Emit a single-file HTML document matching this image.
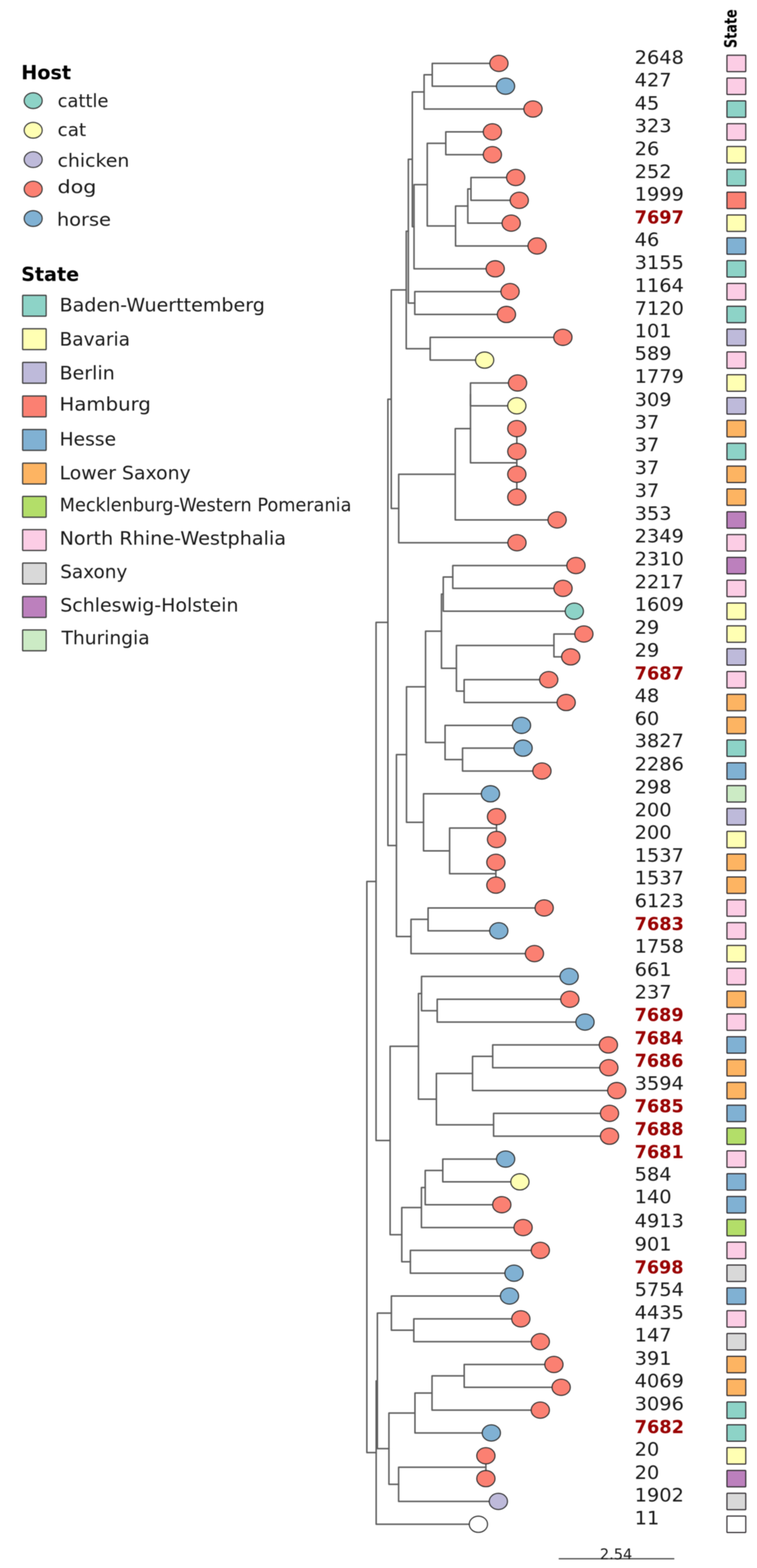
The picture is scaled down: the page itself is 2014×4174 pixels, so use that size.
<!DOCTYPE html>
<html><head><meta charset="utf-8"><title>Phylogenetic tree</title>
<style>html,body{margin:0;padding:0;background:#fff;}svg{display:block;}#all{filter:blur(0.8px);}</style>
</head><body>
<svg width="2014" height="4174" viewBox="0 0 2014 4174" font-family="DejaVu Sans, Liberation Sans, sans-serif"><g id="all"><g fill="none" stroke="#5e5e5e" stroke-width="4.0" stroke-linejoin="round" stroke-linecap="round"><path d="M1327.4 168.7H1150V229.5H1345"/><path d="M1150 199.1H1128.3V290.2H1418"/><path d="M1310 351H1186V411.8H1310"/><path d="M1372 472.5H1253V533.3H1381.5"/><path d="M1253 502.9H1244.6V594H1360"/><path d="M1244.6 548.5H1212V654.8H1429"/><path d="M1186 381.4H1136.7V601.6H1212"/><path d="M1136.7 491.5H1101.5V715.6H1317.5"/><path d="M1128.3 244.7H1097V603.5H1101.5"/><path d="M1357 776.3H1103.5V837.1H1347.4"/><path d="M1097 424.1H1086.4V806.7H1103.5"/><path d="M1497.5 897.9H1144.5V958.6H1289.4"/><path d="M1086.4 615.4H1080.8V928.2H1144.5"/><path d="M1377 1019.4H1251.7V1080.2H1375"/><path d="M1375 1140.9V1323.2"/><path d="M1375 1140.9H1375"/><path d="M1375 1201.7H1375"/><path d="M1375 1262.5H1375"/><path d="M1375 1323.2H1375"/><path d="M1251.7 1049.8H1251.7V1232.1H1375"/><path d="M1251.7 1140.9H1211.2V1384H1482.2"/><path d="M1211.2 1262.5H1060.7V1444.7H1375.4"/><path d="M1080.8 771.8H1041V1353.6H1060.7"/><path d="M1532.3 1505.5H1204.6V1566.3H1497.9"/><path d="M1204.6 1535.9H1179.3V1627H1528"/><path d="M1553.4 1687.8H1473.7V1748.6H1518.4"/><path d="M1459.9 1809.3H1234.8V1870.1H1506.3"/><path d="M1473.7 1718.2H1214.3V1839.7H1234.8"/><path d="M1179.3 1581.5H1174.5V1778.9H1214.3"/><path d="M1391.7 1991.6H1230.6V2052.4H1441.8"/><path d="M1387.5 1930.9H1184.1V2022H1230.6"/><path d="M1174.5 1680.2H1132.2V1976.4H1184.1"/><path d="M1321 2173.9H1321V2234.7H1321"/><path d="M1319.3 2295.4H1319.3V2356.2H1319.3"/><path d="M1321 2204.3H1196.2V2325.8H1319.3"/><path d="M1304.8 2113.1H1126.8V2265.1H1196.2"/><path d="M1132.2 1828.3H1081.5V2189.1H1126.8"/><path d="M1447.8 2417H1138.9V2477.7H1327"/><path d="M1138.9 2447.3H1093.5V2538.5H1421.9"/><path d="M1081.5 2008.7H1054.7V2492.9H1093.5"/><path d="M1041 1062.7H1032V2250.8H1054.7"/><path d="M1516 2660H1163.2V2720.8H1556.4"/><path d="M1514.2 2599.3H1121.5V2690.4H1163.2"/><path d="M1618.6 2781.6H1310.8V2842.3H1619.8"/><path d="M1310.8 2811.9H1257.2V2903.1H1640.9"/><path d="M1621.6 2963.8H1313.2V3024.6H1621.6"/><path d="M1257.2 2857.5H1161V2994.2H1313.2"/><path d="M1121.5 2644.8H1113.3V2925.9H1161"/><path d="M1345.2 3085.4H1178V3146.1H1383.2"/><path d="M1178 3115.8H1131.3V3206.9H1335"/><path d="M1131.3 3161.3H1121.2V3267.7H1391.7"/><path d="M1437.5 3328.4H1091.8V3389.2H1367.5"/><path d="M1121.2 3214.5H1068.9V3358.8H1091.8"/><path d="M1113.3 2785.3H1037.9V3286.7H1068.9"/><path d="M1032 1656.8H1000.5V3036H1037.9"/><path d="M1385.7 3510.7H1100.9V3571.5H1437.5"/><path d="M1355.5 3450H1041.3V3541.1H1100.9"/><path d="M1473.7 3632.2H1235V3693H1493"/><path d="M1235 3662.6H1149.4V3753.8H1437.5"/><path d="M1149.4 3708.2H1104V3814.5H1307.2"/><path d="M1292.7 3875.3H1292.7V3936.1H1292.7"/><path d="M1292.7 3905.7H1060.5V3996.8H1325.9"/><path d="M1104 3761.4H1034.7V3951.3H1060.5"/><path d="M1041.3 3495.5H1004V3856.3H1034.7"/><path d="M1004 3675.9H1000.8V4057.6H1272.8"/><path d="M1000.5 2346.4H976V3866.8H1000.8"/></g><g stroke="#2e2e2e" stroke-width="2.8"><ellipse cx="1327.4" cy="168.7" rx="24.3" ry="21.6" fill="#FB8072"/><ellipse cx="1345" cy="229.5" rx="24.3" ry="21.6" fill="#80B1D3"/><ellipse cx="1418" cy="290.2" rx="24.3" ry="21.6" fill="#FB8072"/><ellipse cx="1310" cy="351" rx="24.3" ry="21.6" fill="#FB8072"/><ellipse cx="1310" cy="411.8" rx="24.3" ry="21.6" fill="#FB8072"/><ellipse cx="1372" cy="472.5" rx="24.3" ry="21.6" fill="#FB8072"/><ellipse cx="1381.5" cy="533.3" rx="24.3" ry="21.6" fill="#FB8072"/><ellipse cx="1360" cy="594" rx="24.3" ry="21.6" fill="#FB8072"/><ellipse cx="1429" cy="654.8" rx="24.3" ry="21.6" fill="#FB8072"/><ellipse cx="1317.5" cy="715.6" rx="24.3" ry="21.6" fill="#FB8072"/><ellipse cx="1357" cy="776.3" rx="24.3" ry="21.6" fill="#FB8072"/><ellipse cx="1347.4" cy="837.1" rx="24.3" ry="21.6" fill="#FB8072"/><ellipse cx="1497.5" cy="897.9" rx="24.3" ry="21.6" fill="#FB8072"/><ellipse cx="1289.4" cy="958.6" rx="24.3" ry="21.6" fill="#FFFFB3"/><ellipse cx="1377" cy="1019.4" rx="24.3" ry="21.6" fill="#FB8072"/><ellipse cx="1375" cy="1080.2" rx="24.3" ry="21.6" fill="#FFFFB3"/><ellipse cx="1375" cy="1140.9" rx="24.3" ry="21.6" fill="#FB8072"/><ellipse cx="1375" cy="1201.7" rx="24.3" ry="21.6" fill="#FB8072"/><ellipse cx="1375" cy="1262.5" rx="24.3" ry="21.6" fill="#FB8072"/><ellipse cx="1375" cy="1323.2" rx="24.3" ry="21.6" fill="#FB8072"/><ellipse cx="1482.2" cy="1384" rx="24.3" ry="21.6" fill="#FB8072"/><ellipse cx="1375.4" cy="1444.7" rx="24.3" ry="21.6" fill="#FB8072"/><ellipse cx="1532.3" cy="1505.5" rx="24.3" ry="21.6" fill="#FB8072"/><ellipse cx="1497.9" cy="1566.3" rx="24.3" ry="21.6" fill="#FB8072"/><ellipse cx="1528" cy="1627" rx="24.3" ry="21.6" fill="#8DD3C7"/><ellipse cx="1553.4" cy="1687.8" rx="24.3" ry="21.6" fill="#FB8072"/><ellipse cx="1518.4" cy="1748.6" rx="24.3" ry="21.6" fill="#FB8072"/><ellipse cx="1459.9" cy="1809.3" rx="24.3" ry="21.6" fill="#FB8072"/><ellipse cx="1506.3" cy="1870.1" rx="24.3" ry="21.6" fill="#FB8072"/><ellipse cx="1387.5" cy="1930.9" rx="24.3" ry="21.6" fill="#80B1D3"/><ellipse cx="1391.7" cy="1991.6" rx="24.3" ry="21.6" fill="#80B1D3"/><ellipse cx="1441.8" cy="2052.4" rx="24.3" ry="21.6" fill="#FB8072"/><ellipse cx="1304.8" cy="2113.1" rx="24.3" ry="21.6" fill="#80B1D3"/><ellipse cx="1321" cy="2173.9" rx="24.3" ry="21.6" fill="#FB8072"/><ellipse cx="1321" cy="2234.7" rx="24.3" ry="21.6" fill="#FB8072"/><ellipse cx="1319.3" cy="2295.4" rx="24.3" ry="21.6" fill="#FB8072"/><ellipse cx="1319.3" cy="2356.2" rx="24.3" ry="21.6" fill="#FB8072"/><ellipse cx="1447.8" cy="2417" rx="24.3" ry="21.6" fill="#FB8072"/><ellipse cx="1327" cy="2477.7" rx="24.3" ry="21.6" fill="#80B1D3"/><ellipse cx="1421.9" cy="2538.5" rx="24.3" ry="21.6" fill="#FB8072"/><ellipse cx="1514.2" cy="2599.3" rx="24.3" ry="21.6" fill="#80B1D3"/><ellipse cx="1516" cy="2660" rx="24.3" ry="21.6" fill="#FB8072"/><ellipse cx="1556.4" cy="2720.8" rx="24.3" ry="21.6" fill="#80B1D3"/><ellipse cx="1618.6" cy="2781.6" rx="24.3" ry="21.6" fill="#FB8072"/><ellipse cx="1619.8" cy="2842.3" rx="24.3" ry="21.6" fill="#FB8072"/><ellipse cx="1640.9" cy="2903.1" rx="24.3" ry="21.6" fill="#FB8072"/><ellipse cx="1621.6" cy="2963.8" rx="24.3" ry="21.6" fill="#FB8072"/><ellipse cx="1621.6" cy="3024.6" rx="24.3" ry="21.6" fill="#FB8072"/><ellipse cx="1345.2" cy="3085.4" rx="24.3" ry="21.6" fill="#80B1D3"/><ellipse cx="1383.2" cy="3146.1" rx="24.3" ry="21.6" fill="#FFFFB3"/><ellipse cx="1335" cy="3206.9" rx="24.3" ry="21.6" fill="#FB8072"/><ellipse cx="1391.7" cy="3267.7" rx="24.3" ry="21.6" fill="#FB8072"/><ellipse cx="1437.5" cy="3328.4" rx="24.3" ry="21.6" fill="#FB8072"/><ellipse cx="1367.5" cy="3389.2" rx="24.3" ry="21.6" fill="#80B1D3"/><ellipse cx="1355.5" cy="3450" rx="24.3" ry="21.6" fill="#80B1D3"/><ellipse cx="1385.7" cy="3510.7" rx="24.3" ry="21.6" fill="#FB8072"/><ellipse cx="1437.5" cy="3571.5" rx="24.3" ry="21.6" fill="#FB8072"/><ellipse cx="1473.7" cy="3632.2" rx="24.3" ry="21.6" fill="#FB8072"/><ellipse cx="1493" cy="3693" rx="24.3" ry="21.6" fill="#FB8072"/><ellipse cx="1437.5" cy="3753.8" rx="24.3" ry="21.6" fill="#FB8072"/><ellipse cx="1307.2" cy="3814.5" rx="24.3" ry="21.6" fill="#80B1D3"/><ellipse cx="1292.7" cy="3875.3" rx="24.3" ry="21.6" fill="#FB8072"/><ellipse cx="1292.7" cy="3936.1" rx="24.3" ry="21.6" fill="#FB8072"/><ellipse cx="1325.9" cy="3996.8" rx="24.3" ry="21.6" fill="#BEBADA"/><ellipse cx="1272.8" cy="4057.6" rx="24.3" ry="21.6" fill="#FFFFFF"/></g><g stroke="#2e2a2e" stroke-width="3"><rect x="1934" y="146.9" width="50.1" height="43.8" rx="1.5" fill="#FCCDE5"/><rect x="1934" y="207.7" width="50.1" height="43.8" rx="1.5" fill="#FCCDE5"/><rect x="1934" y="268.4" width="50.1" height="43.8" rx="1.5" fill="#8DD3C7"/><rect x="1934" y="329.2" width="50.1" height="43.8" rx="1.5" fill="#FCCDE5"/><rect x="1934" y="390" width="50.1" height="43.8" rx="1.5" fill="#FFFFB3"/><rect x="1934" y="450.7" width="50.1" height="43.8" rx="1.5" fill="#8DD3C7"/><rect x="1934" y="511.5" width="50.1" height="43.8" rx="1.5" fill="#FB8072"/><rect x="1934" y="572.2" width="50.1" height="43.8" rx="1.5" fill="#FFFFB3"/><rect x="1934" y="633" width="50.1" height="43.8" rx="1.5" fill="#80B1D3"/><rect x="1934" y="693.8" width="50.1" height="43.8" rx="1.5" fill="#8DD3C7"/><rect x="1934" y="754.5" width="50.1" height="43.8" rx="1.5" fill="#FCCDE5"/><rect x="1934" y="815.3" width="50.1" height="43.8" rx="1.5" fill="#8DD3C7"/><rect x="1934" y="876.1" width="50.1" height="43.8" rx="1.5" fill="#BEBADA"/><rect x="1934" y="936.8" width="50.1" height="43.8" rx="1.5" fill="#FCCDE5"/><rect x="1934" y="997.6" width="50.1" height="43.8" rx="1.5" fill="#FFFFB3"/><rect x="1934" y="1058.4" width="50.1" height="43.8" rx="1.5" fill="#BEBADA"/><rect x="1934" y="1119.1" width="50.1" height="43.8" rx="1.5" fill="#FDB462"/><rect x="1934" y="1179.9" width="50.1" height="43.8" rx="1.5" fill="#8DD3C7"/><rect x="1934" y="1240.7" width="50.1" height="43.8" rx="1.5" fill="#FDB462"/><rect x="1934" y="1301.4" width="50.1" height="43.8" rx="1.5" fill="#FDB462"/><rect x="1934" y="1362.2" width="50.1" height="43.8" rx="1.5" fill="#BC80BD"/><rect x="1934" y="1422.9" width="50.1" height="43.8" rx="1.5" fill="#FCCDE5"/><rect x="1934" y="1483.7" width="50.1" height="43.8" rx="1.5" fill="#BC80BD"/><rect x="1934" y="1544.5" width="50.1" height="43.8" rx="1.5" fill="#FCCDE5"/><rect x="1934" y="1605.2" width="50.1" height="43.8" rx="1.5" fill="#FFFFB3"/><rect x="1934" y="1666" width="50.1" height="43.8" rx="1.5" fill="#FFFFB3"/><rect x="1934" y="1726.8" width="50.1" height="43.8" rx="1.5" fill="#BEBADA"/><rect x="1934" y="1787.5" width="50.1" height="43.8" rx="1.5" fill="#FCCDE5"/><rect x="1934" y="1848.3" width="50.1" height="43.8" rx="1.5" fill="#FDB462"/><rect x="1934" y="1909.1" width="50.1" height="43.8" rx="1.5" fill="#FDB462"/><rect x="1934" y="1969.8" width="50.1" height="43.8" rx="1.5" fill="#8DD3C7"/><rect x="1934" y="2030.6" width="50.1" height="43.8" rx="1.5" fill="#80B1D3"/><rect x="1934" y="2091.3" width="50.1" height="43.8" rx="1.5" fill="#CCEBC5"/><rect x="1934" y="2152.1" width="50.1" height="43.8" rx="1.5" fill="#BEBADA"/><rect x="1934" y="2212.9" width="50.1" height="43.8" rx="1.5" fill="#FFFFB3"/><rect x="1934" y="2273.6" width="50.1" height="43.8" rx="1.5" fill="#FDB462"/><rect x="1934" y="2334.4" width="50.1" height="43.8" rx="1.5" fill="#FDB462"/><rect x="1934" y="2395.2" width="50.1" height="43.8" rx="1.5" fill="#FCCDE5"/><rect x="1934" y="2455.9" width="50.1" height="43.8" rx="1.5" fill="#FCCDE5"/><rect x="1934" y="2516.7" width="50.1" height="43.8" rx="1.5" fill="#FFFFB3"/><rect x="1934" y="2577.5" width="50.1" height="43.8" rx="1.5" fill="#FCCDE5"/><rect x="1934" y="2638.2" width="50.1" height="43.8" rx="1.5" fill="#FDB462"/><rect x="1934" y="2699" width="50.1" height="43.8" rx="1.5" fill="#FCCDE5"/><rect x="1934" y="2759.8" width="50.1" height="43.8" rx="1.5" fill="#80B1D3"/><rect x="1934" y="2820.5" width="50.1" height="43.8" rx="1.5" fill="#FDB462"/><rect x="1934" y="2881.3" width="50.1" height="43.8" rx="1.5" fill="#FDB462"/><rect x="1934" y="2942" width="50.1" height="43.8" rx="1.5" fill="#80B1D3"/><rect x="1934" y="3002.8" width="50.1" height="43.8" rx="1.5" fill="#B3DE69"/><rect x="1934" y="3063.6" width="50.1" height="43.8" rx="1.5" fill="#FCCDE5"/><rect x="1934" y="3124.3" width="50.1" height="43.8" rx="1.5" fill="#80B1D3"/><rect x="1934" y="3185.1" width="50.1" height="43.8" rx="1.5" fill="#80B1D3"/><rect x="1934" y="3245.9" width="50.1" height="43.8" rx="1.5" fill="#B3DE69"/><rect x="1934" y="3306.6" width="50.1" height="43.8" rx="1.5" fill="#FCCDE5"/><rect x="1934" y="3367.4" width="50.1" height="43.8" rx="1.5" fill="#D9D9D9"/><rect x="1934" y="3428.2" width="50.1" height="43.8" rx="1.5" fill="#80B1D3"/><rect x="1934" y="3488.9" width="50.1" height="43.8" rx="1.5" fill="#FCCDE5"/><rect x="1934" y="3549.7" width="50.1" height="43.8" rx="1.5" fill="#D9D9D9"/><rect x="1934" y="3610.4" width="50.1" height="43.8" rx="1.5" fill="#FDB462"/><rect x="1934" y="3671.2" width="50.1" height="43.8" rx="1.5" fill="#FDB462"/><rect x="1934" y="3732" width="50.1" height="43.8" rx="1.5" fill="#8DD3C7"/><rect x="1934" y="3792.7" width="50.1" height="43.8" rx="1.5" fill="#8DD3C7"/><rect x="1934" y="3853.5" width="50.1" height="43.8" rx="1.5" fill="#FFFFB3"/><rect x="1934" y="3914.3" width="50.1" height="43.8" rx="1.5" fill="#BC80BD"/><rect x="1934" y="3975" width="50.1" height="43.8" rx="1.5" fill="#D9D9D9"/><rect x="1934" y="4035.8" width="50.1" height="43.8" rx="1.5" fill="#FFFFFF"/></g><g font-size="49.5" fill="#1a1a1a"><text x="1688.5" y="170.1" textLength="131" lengthAdjust="spacingAndGlyphs">2648</text><text x="1688.5" y="230.3" textLength="98.3" lengthAdjust="spacingAndGlyphs">427</text><text x="1688.5" y="291.5" textLength="65.5" lengthAdjust="spacingAndGlyphs">45</text><text x="1688.5" y="352.1" textLength="98.3" lengthAdjust="spacingAndGlyphs">323</text><text x="1688.5" y="413" textLength="65.5" lengthAdjust="spacingAndGlyphs">26</text><text x="1688.5" y="473.7" textLength="98.3" lengthAdjust="spacingAndGlyphs">252</text><text x="1688.5" y="533.7" textLength="131" lengthAdjust="spacingAndGlyphs">1999</text><text x="1688.5" y="594.7" textLength="131" lengthAdjust="spacingAndGlyphs" font-weight="bold" font-size="48" fill="#990000">7697</text><text x="1688.5" y="655.1" textLength="65.5" lengthAdjust="spacingAndGlyphs">46</text><text x="1688.5" y="716.4" textLength="131" lengthAdjust="spacingAndGlyphs">3155</text><text x="1688.5" y="777" textLength="131" lengthAdjust="spacingAndGlyphs">1164</text><text x="1688.5" y="837.7" textLength="131" lengthAdjust="spacingAndGlyphs">7120</text><text x="1688.5" y="897.6" textLength="98.3" lengthAdjust="spacingAndGlyphs">101</text><text x="1688.5" y="958.3" textLength="98.3" lengthAdjust="spacingAndGlyphs">589</text><text x="1688.5" y="1019.4" textLength="131" lengthAdjust="spacingAndGlyphs">1779</text><text x="1688.5" y="1080.7" textLength="98.3" lengthAdjust="spacingAndGlyphs">309</text><text x="1688.5" y="1141.4" textLength="65.5" lengthAdjust="spacingAndGlyphs">37</text><text x="1688.5" y="1201.3" textLength="65.5" lengthAdjust="spacingAndGlyphs">37</text><text x="1688.5" y="1261.9" textLength="65.5" lengthAdjust="spacingAndGlyphs">37</text><text x="1688.5" y="1323" textLength="65.5" lengthAdjust="spacingAndGlyphs">37</text><text x="1688.5" y="1383.9" textLength="98.3" lengthAdjust="spacingAndGlyphs">353</text><text x="1688.5" y="1444.4" textLength="131" lengthAdjust="spacingAndGlyphs">2349</text><text x="1688.5" y="1505.1" textLength="131" lengthAdjust="spacingAndGlyphs">2310</text><text x="1688.5" y="1565.7" textLength="131" lengthAdjust="spacingAndGlyphs">2217</text><text x="1688.5" y="1626.4" textLength="131" lengthAdjust="spacingAndGlyphs">1609</text><text x="1688.5" y="1687" textLength="65.5" lengthAdjust="spacingAndGlyphs">29</text><text x="1688.5" y="1747.6" textLength="65.5" lengthAdjust="spacingAndGlyphs">29</text><text x="1688.5" y="1809" textLength="131" lengthAdjust="spacingAndGlyphs" font-weight="bold" font-size="48" fill="#990000">7687</text><text x="1688.5" y="1869" textLength="65.5" lengthAdjust="spacingAndGlyphs">48</text><text x="1688.5" y="1929.5" textLength="65.5" lengthAdjust="spacingAndGlyphs">60</text><text x="1688.5" y="1989.3" textLength="131" lengthAdjust="spacingAndGlyphs">3827</text><text x="1688.5" y="2051.1" textLength="131" lengthAdjust="spacingAndGlyphs">2286</text><text x="1688.5" y="2111.6" textLength="98.3" lengthAdjust="spacingAndGlyphs">298</text><text x="1688.5" y="2172.8" textLength="98.3" lengthAdjust="spacingAndGlyphs">200</text><text x="1688.5" y="2233" textLength="98.3" lengthAdjust="spacingAndGlyphs">200</text><text x="1688.5" y="2293.7" textLength="131" lengthAdjust="spacingAndGlyphs">1537</text><text x="1688.5" y="2354.3" textLength="131" lengthAdjust="spacingAndGlyphs">1537</text><text x="1688.5" y="2414.9" textLength="131" lengthAdjust="spacingAndGlyphs">6123</text><text x="1688.5" y="2475.6" textLength="131" lengthAdjust="spacingAndGlyphs" font-weight="bold" font-size="48" fill="#990000">7683</text><text x="1688.5" y="2536.2" textLength="131" lengthAdjust="spacingAndGlyphs">1758</text><text x="1688.5" y="2597.9" textLength="98.3" lengthAdjust="spacingAndGlyphs">661</text><text x="1688.5" y="2657.7" textLength="98.3" lengthAdjust="spacingAndGlyphs">237</text><text x="1688.5" y="2718.2" textLength="130.2" lengthAdjust="spacingAndGlyphs" font-weight="bold" font-size="48" fill="#990000">7689</text><text x="1688.5" y="2779.6" textLength="129.3" lengthAdjust="spacingAndGlyphs" font-weight="bold" font-size="48" fill="#990000">7684</text><text x="1688.5" y="2840.2" textLength="129.5" lengthAdjust="spacingAndGlyphs" font-weight="bold" font-size="48" fill="#990000">7686</text><text x="1688.5" y="2900.8" textLength="131" lengthAdjust="spacingAndGlyphs">3594</text><text x="1688.5" y="2961.3" textLength="130.5" lengthAdjust="spacingAndGlyphs" font-weight="bold" font-size="48" fill="#990000">7685</text><text x="1688.5" y="3022.4" textLength="130" lengthAdjust="spacingAndGlyphs" font-weight="bold" font-size="48" fill="#990000">7688</text><text x="1688.5" y="3083.1" textLength="130.5" lengthAdjust="spacingAndGlyphs" font-weight="bold" font-size="48" fill="#990000">7681</text><text x="1688.5" y="3142.9" textLength="98.3" lengthAdjust="spacingAndGlyphs">584</text><text x="1688.5" y="3203.4" textLength="98.3" lengthAdjust="spacingAndGlyphs">140</text><text x="1688.5" y="3267.1" textLength="131" lengthAdjust="spacingAndGlyphs">4913</text><text x="1688.5" y="3329.2" textLength="98.3" lengthAdjust="spacingAndGlyphs">901</text><text x="1688.5" y="3389.7" textLength="130" lengthAdjust="spacingAndGlyphs" font-weight="bold" font-size="48" fill="#990000">7698</text><text x="1688.5" y="3450.2" textLength="131" lengthAdjust="spacingAndGlyphs">5754</text><text x="1688.5" y="3510.8" textLength="131" lengthAdjust="spacingAndGlyphs">4435</text><text x="1688.5" y="3571.4" textLength="98.3" lengthAdjust="spacingAndGlyphs">147</text><text x="1688.5" y="3632.7" textLength="98.3" lengthAdjust="spacingAndGlyphs">391</text><text x="1688.5" y="3693.4" textLength="131" lengthAdjust="spacingAndGlyphs">4069</text><text x="1688.5" y="3754" textLength="131" lengthAdjust="spacingAndGlyphs">3096</text><text x="1688.5" y="3814.7" textLength="131.2" lengthAdjust="spacingAndGlyphs" font-weight="bold" font-size="48" fill="#990000">7682</text><text x="1688.5" y="3875.4" textLength="65.5" lengthAdjust="spacingAndGlyphs">20</text><text x="1688.5" y="3936.5" textLength="65.5" lengthAdjust="spacingAndGlyphs">20</text><text x="1688.5" y="3997" textLength="131" lengthAdjust="spacingAndGlyphs">1902</text><text x="1688.5" y="4057.5" textLength="65.5" lengthAdjust="spacingAndGlyphs">11</text></g><text x="56.4" y="211" font-size="51.5" font-weight="bold" textLength="132.7" lengthAdjust="spacingAndGlyphs" fill="#000">Host</text><ellipse cx="88.3" cy="268" rx="24" ry="21" fill="#8DD3C7" stroke="#383838" stroke-width="2.9"/><text x="153.4" y="285" font-size="48.7" textLength="135.2" lengthAdjust="spacingAndGlyphs" fill="#1a1a1a">cattle</text><ellipse cx="88.3" cy="346.8" rx="24" ry="21" fill="#FFFFB3" stroke="#383838" stroke-width="2.9"/><text x="153.3" y="361.5" font-size="48.7" textLength="76" lengthAdjust="spacingAndGlyphs" fill="#1a1a1a">cat</text><ellipse cx="88.3" cy="424.9" rx="24" ry="21" fill="#BEBADA" stroke="#383838" stroke-width="2.9"/><text x="153.2" y="443.6" font-size="48.7" textLength="191" lengthAdjust="spacingAndGlyphs" fill="#1a1a1a">chicken</text><ellipse cx="88.3" cy="503.4" rx="24" ry="21" fill="#FB8072" stroke="#383838" stroke-width="2.9"/><text x="153" y="513.6" font-size="48.7" textLength="103.4" lengthAdjust="spacingAndGlyphs" fill="#1a1a1a">dog</text><ellipse cx="88.3" cy="581.7" rx="24" ry="21" fill="#80B1D3" stroke="#383838" stroke-width="2.9"/><text x="151.4" y="600.5" font-size="48.7" textLength="143.9" lengthAdjust="spacingAndGlyphs" fill="#1a1a1a">horse</text><text x="56.4" y="748.2" font-size="51.5" font-weight="bold" textLength="154.1" lengthAdjust="spacingAndGlyphs" fill="#000">State</text><rect x="60.2" y="786.1" width="62.6" height="55.5" rx="1.5" fill="#8DD3C7" stroke="#3e3e3e" stroke-width="3.2"/><text x="158.4" y="828.7" font-size="49.5" textLength="546.3" lengthAdjust="spacingAndGlyphs" fill="#1a1a1a">Baden-Wuerttemberg</text><rect x="60.2" y="875.2" width="62.6" height="55.5" rx="1.5" fill="#FFFFB3" stroke="#3e3e3e" stroke-width="3.2"/><text x="158.6" y="919.7" font-size="49.5" textLength="187.2" lengthAdjust="spacingAndGlyphs" fill="#1a1a1a">Bavaria</text><rect x="60.2" y="964.7" width="62.6" height="55.5" rx="1.5" fill="#BEBADA" stroke="#3e3e3e" stroke-width="3.2"/><text x="158.4" y="1009.8" font-size="49.5" textLength="146.9" lengthAdjust="spacingAndGlyphs" fill="#1a1a1a">Berlin</text><rect x="60.2" y="1054.1" width="62.6" height="55.5" rx="1.5" fill="#FB8072" stroke="#3e3e3e" stroke-width="3.2"/><text x="158.3" y="1092.5" font-size="49.5" textLength="243" lengthAdjust="spacingAndGlyphs" fill="#1a1a1a">Hamburg</text><rect x="60.2" y="1143.3" width="62.6" height="55.5" rx="1.5" fill="#80B1D3" stroke="#3e3e3e" stroke-width="3.2"/><text x="158.5" y="1186.2" font-size="49.5" textLength="150.3" lengthAdjust="spacingAndGlyphs" fill="#1a1a1a">Hesse</text><rect x="60.2" y="1232.8" width="62.6" height="55.5" rx="1.5" fill="#FDB462" stroke="#3e3e3e" stroke-width="3.2"/><text x="158.5" y="1276.3" font-size="49.5" textLength="348.9" lengthAdjust="spacingAndGlyphs" fill="#1a1a1a">Lower Saxony</text><rect x="60.2" y="1321.3" width="62.6" height="55.5" rx="1.5" fill="#B3DE69" stroke="#3e3e3e" stroke-width="3.2"/><text x="158.8" y="1360.7" font-size="49.5" textLength="776.2" lengthAdjust="spacingAndGlyphs" fill="#1a1a1a">Mecklenburg-Western Pomerania</text><rect x="60.2" y="1409.8" width="62.6" height="55.5" rx="1.5" fill="#FCCDE5" stroke="#3e3e3e" stroke-width="3.2"/><text x="158.4" y="1450.1" font-size="49.5" textLength="602.6" lengthAdjust="spacingAndGlyphs" fill="#1a1a1a">North Rhine-Westphalia</text><rect x="60.2" y="1498.9" width="62.6" height="55.5" rx="1.5" fill="#D9D9D9" stroke="#3e3e3e" stroke-width="3.2"/><text x="160.3" y="1539.3" font-size="49.5" textLength="178.5" lengthAdjust="spacingAndGlyphs" fill="#1a1a1a">Saxony</text><rect x="60.2" y="1588.1" width="62.6" height="55.5" rx="1.5" fill="#BC80BD" stroke="#3e3e3e" stroke-width="3.2"/><text x="160.2" y="1627.8" font-size="49.5" textLength="474.4" lengthAdjust="spacingAndGlyphs" fill="#1a1a1a">Schleswig-Holstein</text><rect x="60.2" y="1676.9" width="62.6" height="55.5" rx="1.5" fill="#CCEBC5" stroke="#3e3e3e" stroke-width="3.2"/><text x="163.7" y="1714.6" font-size="49.5" textLength="234.6" lengthAdjust="spacingAndGlyphs" fill="#1a1a1a">Thuringia</text><text transform="translate(1959.5 127.9) rotate(-90)" x="0" y="0" font-size="44.5" font-weight="bold" textLength="103.1" lengthAdjust="spacingAndGlyphs" fill="#000">State</text><path d="M1486.5 4149.3H1794" stroke="#4a4a4a" stroke-width="3.2" fill="none"/><text x="1596.1" y="4150.5" font-size="39" textLength="86.1" lengthAdjust="spacingAndGlyphs" fill="#1a1a1a">2.54</text></g></svg>
</body></html>
